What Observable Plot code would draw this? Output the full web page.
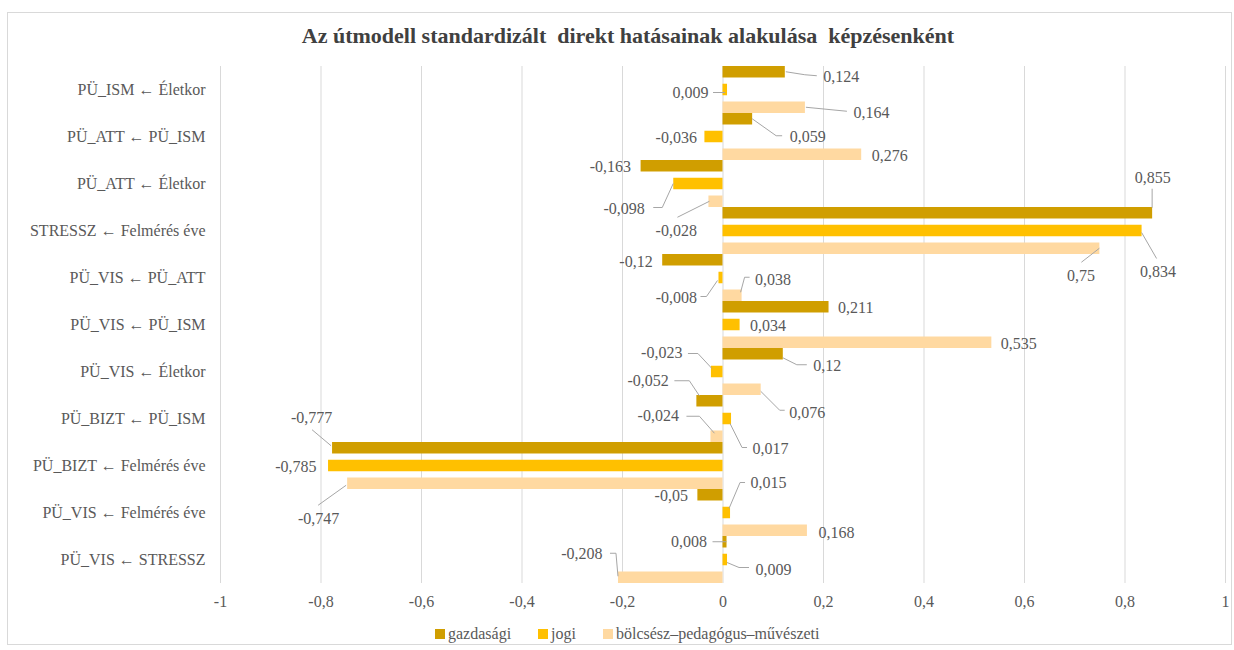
<!DOCTYPE html>
<html>
<head>
<meta charset="utf-8">
<script src="https://cdn.jsdelivr.net/npm/d3@7"></script>
<script src="https://cdn.jsdelivr.net/npm/@observablehq/plot@0.6"></script>
<style>
  body { margin: 0; background: #fff; font-family: "Liberation Serif", "Times New Roman", serif; }
  #frame { position: absolute; left: 7px; top: 12px; width: 1225px; height: 633px; border: 1px solid #d9d9d9; box-sizing: border-box; }
  #title { position: absolute; left: 0; top: 23px; width: 1256px; text-align: center; font-weight: bold; font-size: 22px; color: #404040; white-space: pre; }
  #chart { position: absolute; left: 0; top: 0; }
  #chart svg, #chart svg text { font-family: "Liberation Serif", "Times New Roman", serif !important; }
  #legend { position: absolute; left: 435px; top: 625px; display: flex; align-items: center; font-size: 16px; color: #595959; }
  #legend .item { display: flex; align-items: center; margin-right: 27px; }
  #legend .sw { width: 10px; height: 10px; margin-right: 3px; }
</style>
</head>
<body>
<div id="frame"></div>
<div id="title">Az útmodell standardizált  direkt hatásainak alakulása  képzésenként</div>
<div id="chart"></div>
<div id="legend"></div>
<script>
// ---- data ----
const categories = [
  "PÜ_ISM ← Életkor",
  "PÜ_ATT ← PÜ_ISM",
  "PÜ_ATT ← Életkor",
  "STRESSZ ← Felmérés éve",
  "PÜ_VIS ← PÜ_ATT",
  "PÜ_VIS ← PÜ_ISM",
  "PÜ_VIS ← Életkor",
  "PÜ_BIZT ← PÜ_ISM",
  "PÜ_BIZT ← Felmérés éve",
  "PÜ_VIS ← Felmérés éve",
  "PÜ_VIS ← STRESSZ"
];
const seriesNames = ["gazdasági", "jogi", "bölcsész–pedagógus–művészeti"];
const gazdasagi = [0.124, 0.059, -0.163, 0.855, -0.12, 0.211, 0.12, -0.052, -0.777, -0.05, 0.008];
const jogi      = [0.009, -0.036, -0.098, 0.834, -0.008, 0.034, -0.023, 0.017, -0.785, 0.015, 0.009];
const bolcsesz  = [0.164, 0.276, -0.028, 0.75, 0.038, 0.535, 0.076, -0.024, -0.747, 0.168, -0.208];
const xTicks = [-1, -0.8, -0.6, -0.4, -0.2, 0, 0.2, 0.4, 0.6, 0.8, 1];

// ---- styles ----
const FONT = "'Liberation Serif', 'Times New Roman', serif";
const colors = ["#D09E00", "#FFC000", "#FFD9A1"];
const textColor = "#595959";
// label placement: [dx, dy, anchor, leader points] relative to bar end / bar centre (pixels)
const placeGazd = [
  [38, 5, "start", [[1,0],[20,3],[32,4]]],
  [37, 18, "start", [[0,0],[24,17],[30,17]]],
  [-10, 1, "end", null],
  [0, -35, "middle", [[0,-5],[0,-24]]],
  [-10, 2, "end", null],
  [9, 1, "start", null],
  [30, 12, "start", [[0,4],[14,11],[24,11]]],
  [-28, -20, "end", [[3,-5],[-7,-20],[-22,-20]]],
  [-21, -30, "middle", [[-1,-2],[-20,-18]]],
  [-10, 1, "end", null],
  [-20, 0, "end", [[0,0],[-14,0]]]
];
const placeJogi = [
  [-19, 3, "end", [[-2,3],[-14,3]]],
  [-8, 1, "end", null],
  [-29, 25, "end", [[0,0],[-11,24],[-20,24]]],
  [16, 41, "middle", [[0,2],[15,28]]],
  [-22, 20, "end", [[-1,3],[-12,19],[-18,19]]],
  [10, 1, "start", null],
  [-29, -19, "end", [[1,-3],[-13,-18],[-23,-18]]],
  [21, 30, "start", [[-1,5],[11,29],[16,29]]],
  [-12, 1, "end", null],
  [20, -30, "start", [[-1,-4],[10,-30],[15,-30]]],
  [28, 10, "start", [[0,3],[12,8],[22,8]]]
];
const placeBolcs = [
  [48, 5, "start", [[1,0],[42,4]]],
  [10, 1, "start", null],
  [-12, 29, "end", [[1,0],[-31,16]]],
  [-19, 27, "middle", [[0,0],[-18,14]]],
  [13, -16, "start", [[-1,-3],[3,-18],[8,-18]]],
  [9, 1, "start", null],
  [28, 23, "start", [[0,2],[19,21],[24,21]]],
  [-32, -21, "end", [[4,-3],[-11,-20],[-24,-20]]],
  [-29, 35, "middle", [[-1,2],[-29,22]]],
  [11, 2, "start", null],
  [-16, -24, "end", [[0,-1],[-2,-24],[-8,-24]]]
];

const seriesValues = [gazdasagi, jogi, bolcsesz];
const placements = [placeGazd, placeJogi, placeBolcs];

const rows = [];
seriesValues.forEach((vals, k) => {
  vals.forEach((v, i) => rows.push({cat: categories[i], series: seriesNames[k], k, value: v, place: placements[k][i]}));
});

const fmt = v => String(v).replace(".", ",");

const W = 1234, H = 625;
const mTop = 66, mBottom = 42, mLeft = 220, mRight = 9;
const bandH = (H - mTop - mBottom) / categories.length;
const pitch = bandH * 0.3777;      // distance between bars of a group
const barH = bandH - 2 * pitch;    // bar thickness
const centerOff = k => -bandH / 2 + k * pitch + barH / 2;

const marks = [
  Plot.gridX(xTicks, {stroke: "#d9d9d9", strokeOpacity: 1, strokeWidth: 1}),
  Plot.axisX(xTicks, {tickSize: 0, tickPadding: 12, tickFormat: fmt, fontSize: 16, fontFamily: FONT, fill: textColor, label: null}),
  Plot.axisY({tickSize: 0, tickPadding: 15, fontSize: 16, fontFamily: FONT, fill: textColor, label: null})
];

seriesNames.forEach((s, k) => {
  marks.push(Plot.barX(rows.filter(d => d.k === k), {
    x: "value", y: "cat", fill: colors[k],
    insetTop: k * pitch, insetBottom: (2 - k) * pitch
  }));
});

// leader lines (computed through the plot's own scales)
marks.push((index, scales) => {
  const g = d3.create("svg:g").attr("fill", "none").attr("stroke", "#a6a6a6").attr("stroke-width", 1);
  const bw = scales.y.bandwidth ? scales.y.bandwidth() : bandH;
  rows.forEach(d => {
    const lp = d.place[3];
    if (!lp) return;
    const x0 = scales.x(d.value);
    const y0 = scales.y(d.cat) + bw / 2 + centerOff(d.k);
    g.append("polyline").attr("points", lp.map(([a, b]) => `${x0 + a},${y0 + b}`).join(" "));
  });
  return g.node();
});

rows.forEach(d => {
  const [dx, dy, anchor] = d.place;
  marks.push(Plot.text([d], {
    x: "value", y: "cat", text: r => fmt(r.value),
    dx, dy: dy + centerOff(d.k), textAnchor: anchor,
    fill: textColor, fontSize: 16, fontFamily: FONT
  }));
});

const chart = Plot.plot({
  width: W, height: H,
  marginTop: mTop, marginBottom: mBottom, marginLeft: mLeft, marginRight: mRight,
  style: {fontFamily: FONT, background: "transparent", color: textColor},
  x: {domain: [-1, 1]},
  y: {domain: categories, padding: 0},
  marks
});
document.getElementById("chart").appendChild(chart);

// legend
const legend = document.getElementById("legend");
seriesNames.forEach((s, k) => {
  const item = document.createElement("div");
  item.className = "item";
  const sw = document.createElement("span");
  sw.className = "sw";
  sw.style.background = colors[k];
  const t = document.createElement("span");
  t.textContent = s;
  item.appendChild(sw); item.appendChild(t);
  legend.appendChild(item);
});
</script>
</body>
</html>
